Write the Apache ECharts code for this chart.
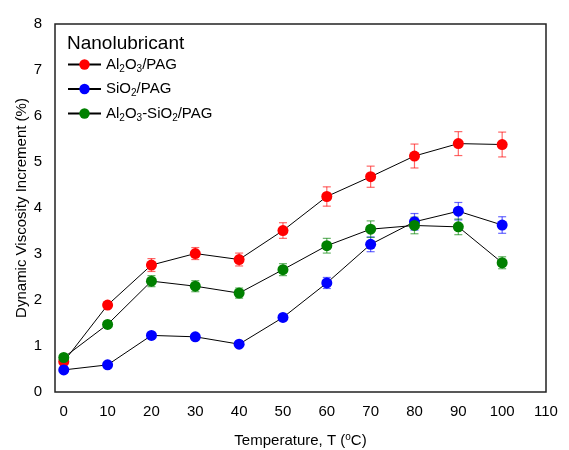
<!DOCTYPE html>
<html><head><meta charset="utf-8">
<script src="https://cdn.jsdelivr.net/npm/echarts@6/dist/echarts.min.js"></script>
<style>html,body{margin:0;padding:0;background:#fff}#c{width:569px;height:450px}</style>
</head><body><div id="c"></div>
<script>
const temps = [0, 10, 20, 30, 40, 50, 60, 70, 80, 90, 100];
const xTicks = [0, 10, 20, 30, 40, 50, 60, 70, 80, 90, 100, 110];
const seriesNames = ['Al2O3/PAG', 'SiO2/PAG', 'Al2O3-SiO2/PAG'];
const al2o3 = [0.66, 1.89, 2.76, 3.01, 2.88, 3.51, 4.25, 4.68, 5.13, 5.40, 5.38];
const al2o3Err = [0.04, 0.05, 0.14, 0.13, 0.14, 0.17, 0.21, 0.23, 0.26, 0.26, 0.27];
const sio2 = [0.48, 0.59, 1.23, 1.20, 1.04, 1.62, 2.37, 3.21, 3.70, 3.93, 3.63];
const sio2Err = [0.03, 0.04, 0.04, 0.04, 0.04, 0.05, 0.12, 0.16, 0.18, 0.19, 0.18];
const mixed = [0.75, 1.47, 2.41, 2.30, 2.15, 2.66, 3.18, 3.54, 3.62, 3.59, 2.81];
const mixedErr = [0.04, 0.05, 0.12, 0.12, 0.11, 0.13, 0.16, 0.18, 0.18, 0.17, 0.13];
const yTitle = 'Dynamic Viscosity Increment (%)';
const colors = ['#ff0000', '#0000ff', '#008000'];
const errColors = ['rgba(255,0,0,0.6)', 'rgba(0,0,255,0.6)', 'rgba(0,128,0,0.6)'];
const richNames = {
  'Al2O3/PAG': '{n|Al}{s|2}{n|O}{s|3}{n|/PAG}',
  'SiO2/PAG': '{n|SiO}{s|2}{n|/PAG}',
  'Al2O3-SiO2/PAG': '{n|Al}{s|2}{n|O}{s|3}{n|-SiO}{s|2}{n|/PAG}'
};
const FONT = 'Liberation Sans, Arial, sans-serif';
const vals = [al2o3, sio2, mixed];
const errs = [al2o3Err, sio2Err, mixedErr];

const chart = echarts.init(document.getElementById('c'), null, {renderer: 'canvas'});
const series = [];
vals.forEach((v, i) => {
  series.push({
    type: 'custom',
    name: seriesNames[i] + '_err',
    z: 1,
    silent: true,
    data: temps.map((t, k) => [t, v[k] - errs[i][k], v[k] + errs[i][k]]),
    renderItem: function (params, api) {
      const lo = api.coord([api.value(0), api.value(1)]);
      const hi = api.coord([api.value(0), api.value(2)]);
      const w = 4;
      const st = {stroke: errColors[i], lineWidth: 1.2};
      return {type: 'group', children: [
        {type: 'line', shape: {x1: lo[0], y1: lo[1], x2: hi[0], y2: hi[1]}, style: st},
        {type: 'line', shape: {x1: lo[0] - w, y1: lo[1], x2: lo[0] + w, y2: lo[1]}, style: st},
        {type: 'line', shape: {x1: hi[0] - w, y1: hi[1], x2: hi[0] + w, y2: hi[1]}, style: st}
      ]};
    }
  });
});
vals.forEach((v, i) => {
  series.push({
    type: 'line',
    name: seriesNames[i],
    z: 3 + i,
    data: temps.map((t, k) => [t, v[k]]),
    symbol: 'circle',
    symbolSize: 11,
    lineStyle: {color: '#000', width: 1},
    itemStyle: {color: colors[i], borderWidth: 0},
    emphasis: {disabled: true},
    animation: false
  });
});

chart.setOption({
  animation: false,
  title: {
    text: 'Nanolubricant', left: 62, top: 29,
    textStyle: {fontFamily: FONT, fontSize: 19, fontWeight: 'normal', color: '#000'}
  },
  graphic: [{
    type: 'text', x: 22, y: 208, rotation: Math.PI / 2,
    style: {text: yTitle, font: '15px ' + FONT, fill: '#000', align: 'center', verticalAlign: 'middle'}
  }],
  legend: {
    data: seriesNames,
    orient: 'vertical', left: 67, top: 55, padding: 0,
    itemWidth: 33, itemHeight: 13, itemGap: 5.5,
    formatter: n => richNames[n],
    textStyle: {
      fontFamily: FONT, color: '#000',
      rich: {
        n: {fontSize: 15, fontFamily: FONT, color: '#000', lineHeight: 18},
        s: {fontSize: 10, fontFamily: FONT, color: '#000', lineHeight: 18, padding: [9, 0, 0, 0]}
      }
    }
  },
  grid: {left: 55, right: 23, top: 24, bottom: 58, show: true, borderColor: '#222', borderWidth: 1.5, containLabel: false, outerBoundsMode: 'none'},
  xAxis: {
    type: 'value', min: -2, max: 110,
    name: '{n|Temperature, T (}{p|o}{n|C)}', nameLocation: 'middle', nameGap: 40,
    nameTextStyle: {
      rich: {
        n: {fontSize: 15, fontFamily: FONT, color: '#000', lineHeight: 18},
        p: {fontSize: 10, fontFamily: FONT, color: '#000', lineHeight: 18, padding: [0, 0, 8, 0]}
      }
    },
    axisLine: {show: false}, axisTick: {show: false}, splitLine: {show: false},
    axisLabel: {customValues: xTicks, fontFamily: FONT, fontSize: 15, color: '#000', margin: 12}
  },
  yAxis: {
    type: 'value', min: 0, max: 8, interval: 1,
    axisLine: {show: false}, axisTick: {show: false}, splitLine: {show: false},
    axisLabel: {fontFamily: FONT, fontSize: 15, color: '#000', margin: 13}
  },
  series: series
});
</script></body></html>
